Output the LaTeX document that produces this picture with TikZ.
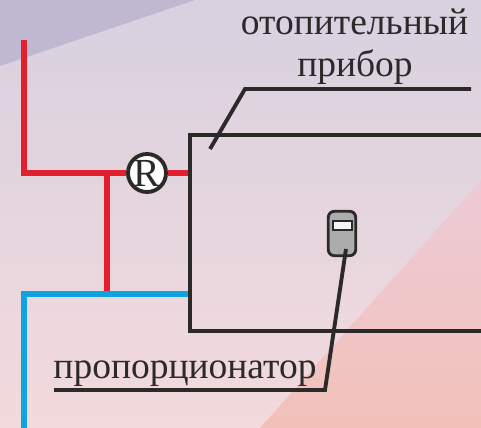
\documentclass[tikz,border=0pt]{standalone}
\usepackage{fontspec}
\setmainfont{Liberation Serif}
\definecolor{pipered}{HTML}{E31E2D}
\definecolor{pipeblue}{HTML}{0FA3E2}
\definecolor{linegray}{HTML}{2B2A29}
\definecolor{bodygray}{HTML}{ABADAC}
\definecolor{bgtop}{HTML}{D8D1E0}
\definecolor{bgmid}{HTML}{EBD7E0}
\definecolor{bgbot}{HTML}{F3DADC}
\definecolor{bgcorner}{HTML}{BFB8D0}
\definecolor{salmontop}{HTML}{EDCBD6}
\definecolor{salmonbot}{HTML}{F2C1BA}
\tikzset{
  redpipe/.style={draw=pipered, line width=4.7pt},
  bluepipe/.style={draw=pipeblue, line width=4.7pt},
  leader/.style={draw=linegray, line width=3.3pt},
  labeltext/.style={text=linegray, font=\fontsize{32}{36}\selectfont, inner sep=0pt, anchor=base},
}
\begin{document}
\begin{tikzpicture}[x=0.03cm, y=-0.03cm]

% Define row heights
\def\rowred{173}
\def\rowblue{294}

\useasboundingbox (0,0) rectangle (481,428);

% Background
\shade[top color=bgtop, middle color=bgmid, bottom color=bgbot] (0,0) rectangle (481,428);
\fill[bgcorner] (0,0) -- (195,0) -- (0,66) -- cycle;
\shade[top color=salmontop, bottom color=salmonbot] (481,180) -- (481,428) -- (260,428) -- cycle;

% Pipe points
\coordinate (redtop) at (24, 40);
\coordinate (redcorner) at (24, \rowred);
\coordinate (redtee) at (107, \rowred);
\coordinate (bluetee) at (107, \rowblue);
\coordinate (bluecorner) at (24, \rowblue);
\coordinate (blueend) at (24, 428);

% Heater outline
\coordinate (boxtopright) at (481, 135);
\coordinate (boxtopleft) at (190, 135);
\coordinate (boxbottomleft) at (190, 331);
\coordinate (boxbottomright) at (481, 331);
\coordinate (boxred) at (190, \rowred);
\coordinate (boxblue) at (190, \rowblue);

% Valve
\node[circle, draw=linegray, fill=white, line width=3.3pt, minimum size=1.14cm, inner sep=0pt,
      text=linegray, font=\fontsize{34}{34}\selectfont] (valve) at (147, \rowred) {R};

% Pipes
\draw[redpipe] (redtop) -- (redcorner) -- (valve);
\draw[redpipe] (valve) -- (boxred);
\draw[redpipe] (redtee) -- (bluetee);
\draw[bluepipe] (boxblue) -- (bluecorner) -- (blueend);
\draw[leader] (boxtopright) -- (boxtopleft) -- (boxbottomleft) -- (boxbottomright);

% Proportioner
\node[draw=linegray, fill=bodygray, line width=2.4pt, rounded corners=5pt, minimum width=0.82cm,
      minimum height=1.33cm, inner sep=0pt] (prop) at (342, 233.5) {};
\node[draw=linegray, fill=white!92!gray, line width=1.9pt, minimum width=0.56cm,
      minimum height=0.27cm, inner sep=0pt] (window) at (342.5, 225.5) {};

% Labels
\node[labeltext] (heatera) at (354.5, 35) {отопительный};
\node[labeltext] (heaterb) at (355, 77) {прибор};
\node[labeltext] (proplabel) at (185, 378) {пропорционатор};

% Leader lines
\coordinate (heaterfoot) at (210, 149);
\coordinate (heaterknee) at (245, 89);
\coordinate (heaterend) at (471, 89);
\coordinate (propfoot) at (346, 249);
\coordinate (propknee) at (325, 390);
\coordinate (propend) at (54, 390);
\draw[leader] (heaterfoot) -- (heaterknee) -- (heaterend);
\draw[leader] (propfoot) -- (propknee) -- (propend);

\end{tikzpicture}
\end{document}
